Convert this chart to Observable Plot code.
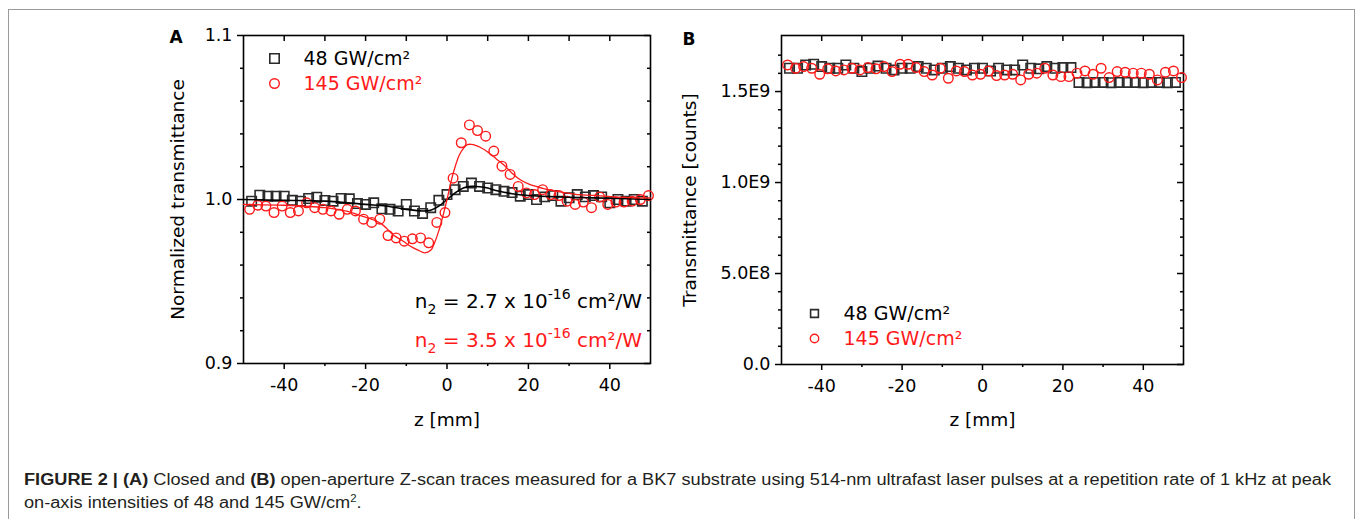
<!DOCTYPE html>
<html><head><meta charset="utf-8">
<script src="https://cdn.jsdelivr.net/npm/d3@7"></script>
<script src="https://cdn.jsdelivr.net/npm/@observablehq/plot@0.6"></script>
<style>
body{margin:0;background:#fff;}
#page{position:relative;width:1357px;height:519px;overflow:hidden;background:#fff;}
#box{position:absolute;left:8px;top:9px;width:1347px;height:560px;border:1px solid #9a9a9a;box-sizing:border-box;}
#pa{position:absolute;left:0;top:0;}
#pb{position:absolute;left:670px;top:0;}
#cap{position:absolute;left:24px;top:468px;font-family:"Liberation Sans Narrow","Liberation Sans",sans-serif;font-size:16px;line-height:23px;color:#231f20;white-space:nowrap;transform-origin:0 0;}
#cap sup{font-size:10px;line-height:0;}
#l1{display:inline-block;}
</style></head><body>
<div id="page"><div id="box"></div><div id="pa"></div><div id="pb"></div>
<div id="cap"><div id="l1"><b>FIGURE 2 | (A)</b> Closed and <b>(B)</b> open-aperture Z-scan traces measured for a BK7 substrate using 514-nm ultrafast laser pulses at a repetition rate of 1 kHz at peak</div><div id="l2">on-axis intensities of 48 and 145 GW/cm<sup>2</sup>.</div></div>
</div>
<script>
// ---------- data ----------
const series = ["48 GW/cm²", "145 GW/cm²"];
const n2Values = ["2.7", "3.5"];

const z48 = [-48,-46,-44,-42,-40,-38,-36,-34,-32,-30,-28,-26,-24,-22,-20,-18,-16,-14,-12,-10,-8,-6,-4,-2,0,2,4,6,8,10,12,14,16,18,20,22,24,26,28,30,32,34,36,38,40,42,44,46,48];
const z145 = [-48.5,-46.5,-44.5,-42.5,-40.5,-38.5,-36.5,-34.5,-32.5,-30.5,-28.5,-26.5,-24.5,-22.5,-20.5,-18.5,-16.5,-14.5,-12.5,-10.5,-8.5,-6.5,-4.5,-2.5,-0.5,1.5,3.5,5.5,7.5,9.5,11.5,13.5,15.5,17.5,19.5,21.5,23.5,25.5,27.5,29.5,31.5,33.5,35.5,37.5,39.5,41.5,43.5,45.5,47.5,49.5];

// Panel A: closed aperture (normalized)
const closed48 = [0.999,1.0026,1.002,1.002,1.002,0.9995,0.999,1.0006,1.0014,0.9994,
  0.999,1.0006,1.0004,0.9975,0.997,0.998,0.9943,0.994,0.993,0.997,
  0.993,0.9915,0.995,0.9995,1.003,1.006,1.008,1.010,1.008,1.007,
  1.006,1.005,1.0042,1.002,1.003,1.0,1.0016,1.0024,0.999,1.001,
  1.003,1.0016,1.0024,1.0016,0.998,1.0,0.999,1.0,0.999];
const closed145 = [0.994,0.9965,0.996,0.992,0.996,0.992,0.993,0.998,0.995,0.994,
  0.993,0.991,0.994,0.993,0.988,0.986,0.988,0.978,0.9766,0.9746,
  0.976,0.9766,0.9736,0.986,0.992,1.013,1.0346,1.0455,1.042,1.0386,
  1.0295,1.0203,1.0153,1.008,1.004,1.003,1.006,1.003,1.0024,0.999,
  0.997,0.9984,0.995,1.0016,0.997,0.9984,0.9984,0.999,1.0,1.0024];

const fitZ48 = [-50,-40,-30,-20,-15,-10,-6,-4,-2,0,2,4,6,8,10,12,16,20,28,36,50];
const fit48  = [1.0,0.9995,0.999,0.997,0.996,0.994,0.993,0.9935,0.996,1.0,1.004,1.007,1.008,1.0078,1.007,1.0055,1.0035,1.0024,1.0015,1.001,1.0];
const fitZ145 = [-50,-40,-30,-25,-21,-18,-16,-13,-11,-9,-7,-5.5,-4,-3,-2,-1,0,1,2,3,4,5,6,7,8,10,12,14,16,18,20,24,28,32,36,42,50];
const fit145  = [0.997,0.9965,0.995,0.993,0.990,0.9875,0.985,0.978,0.975,0.9715,0.969,0.9675,0.969,0.974,0.981,0.990,1.0,1.011,1.020,1.027,1.031,1.0335,1.0336,1.033,1.032,1.029,1.025,1.021,1.016,1.012,1.0095,1.0065,1.0045,1.003,1.0025,1.0015,1.001];

// Panel B: open aperture (counts)
const open48 = [1.628e9,1.628e9,1.646e9,1.65e9,1.637e9,1.628e9,1.628e9,1.646e9,1.628e9,1.61e9,
  1.628e9,1.64e9,1.628e9,1.619e9,1.628e9,1.628e9,1.637e9,1.628e9,1.619e9,1.628e9,
  1.637e9,1.628e9,1.619e9,1.628e9,1.628e9,1.613e9,1.628e9,1.619e9,1.619e9,1.646e9,
  1.628e9,1.625e9,1.637e9,1.628e9,1.632e9,1.632e9,
  1.550e9,1.549e9,1.550e9,1.550e9,1.549e9,1.550e9,1.550e9,1.550e9,1.549e9,1.550e9,1.550e9,1.549e9,1.550e9];
const open145 = [1.646e9,1.628e9,1.637e9,1.628e9,1.595e9,1.625e9,1.613e9,1.619e9,1.628e9,1.619e9,
  1.632e9,1.625e9,1.637e9,1.610e9,1.650e9,1.650e9,1.632e9,1.610e9,1.591e9,1.628e9,
  1.573e9,1.613e9,1.610e9,1.591e9,1.595e9,1.613e9,1.588e9,1.591e9,1.595e9,1.564e9,
  1.595e9,1.601e9,1.628e9,1.591e9,1.582e9,1.582e9,1.601e9,1.613e9,1.595e9,1.628e9,
  1.577e9,1.610e9,1.606e9,1.601e9,1.601e9,1.595e9,1.564e9,1.606e9,1.613e9,1.577e9];

// ticks
const xTicks = [-40,-20,0,20,40];
const xMinor = [-30,-10,10,30];
const yTicksA = [0.9,1.0,1.1];
const yMinorA = [0.92,0.94,0.96,0.98,1.02,1.04,1.06,1.08];
const yTicksB = [0,5e8,1e9,1.5e9];
const yMinorB = [1e8,2e8,3e8,4e8,6e8,7e8,8e8,9e8,1.1e9,1.2e9,1.3e9,1.4e9,1.6e9,1.7e9];

// ---------- styles ----------
const BLACK = "#2b2b2b", RED = "#ff1a1a";
const FONT = "'DejaVu Sans', sans-serif";
const sq = {symbol:"square", r:5.3, stroke:BLACK, strokeWidth:1.6, fill:"none"};
const ci = {symbol:"circle", r:4.8, stroke:RED, strokeWidth:1.4, fill:"none"};

function frameMarks(innerW, innerH, yMaj, yMin, yFmt) {
  return [
    Plot.frame({stroke:"#000", strokeWidth:1.6}),
    Plot.axisX({ticks:xTicks, tickSize:6, tickPadding:9, tickFormat:d=>String(d), label:null, fontSize:17.5, strokeWidth:1.5}),
    Plot.axisX({ticks:xMinor, tickSize:3, tickFormat:()=>"", label:null, strokeWidth:1.5}),
    Plot.axisY({ticks:yMaj, tickSize:6, tickPadding:5, tickFormat:yFmt, label:null, fontSize:17.5, strokeWidth:1.5}),
    Plot.axisY({ticks:yMin, tickSize:3, tickFormat:()=>"", label:null, strokeWidth:1.5}),
    Plot.tickX(xTicks, {x:d=>d, insetBottom:innerH-6, stroke:"#000", strokeWidth:1.5}),
    Plot.tickX(xMinor, {x:d=>d, insetBottom:innerH-6, stroke:"#000", strokeWidth:1.5}),
    Plot.tickY(yMaj, {y:d=>d, insetLeft:innerW-6, stroke:"#000", strokeWidth:1.5}),
    Plot.tickY(yMin, {y:d=>d, insetLeft:innerW-3, stroke:"#000", strokeWidth:1.5})
  ];
}
const lbl = {textAnchor:"start", lineAnchor:"middle", fontSize:19};

// ---------- Panel A ----------
const A = {w:670, h:440, l:243, r:20, t:35, b:77};
const innerWA = A.w - A.l - A.r, innerHA = A.h - A.t - A.b;
const plotA = Plot.plot({
  width:A.w, height:A.h, marginLeft:A.l, marginRight:A.r, marginTop:A.t, marginBottom:A.b,
  x:{domain:[-50,50]}, y:{domain:[0.9,1.1]},
  style:{fontFamily:FONT, color:"#000", background:"transparent", overflow:"visible"},
  marks:[
    ...frameMarks(innerWA, innerHA, yTicksA, yMinorA, d3.format(".1f")),
    Plot.dot(z48, {x:d=>d, y:(d,i)=>closed48[i], ...sq}),
    Plot.dot(z145, {x:d=>d, y:(d,i)=>closed145[i], ...ci}),
    Plot.line(fitZ48, {x:d=>d, y:(d,i)=>fit48[i], stroke:"#000", strokeWidth:1.6, curve:"catmull-rom"}),
    Plot.line(fitZ145, {x:d=>d, y:(d,i)=>fit145[i], stroke:RED, strokeWidth:1.3, curve:"catmull-rom"}),
    Plot.dot([series[0]], {frameAnchor:"top-left", dx:31, dy:23, ...sq}),
    Plot.dot([series[1]], {frameAnchor:"top-left", dx:31, dy:48, ...ci}),
    Plot.text([series[0]], {frameAnchor:"top-left", dx:60, dy:23, fill:"#000", ...lbl}),
    Plot.text([series[1]], {frameAnchor:"top-left", dx:60, dy:48, fill:RED, ...lbl}),
    Plot.text(["Normalized transmittance"], {frameAnchor:"left", dx:-65, rotate:-90, textAnchor:"middle", lineAnchor:"middle", fontSize:18.5, fill:"#000"}),
    Plot.text(["z [mm]"], {frameAnchor:"bottom", dy:57, textAnchor:"middle", lineAnchor:"middle", fontSize:18.5, fill:"#000"})
  ]
});
document.getElementById("pa").appendChild(plotA);

function n2Label(svg, x, y, color, val) {
  const t = d3.select(svg).append("text").attr("x", x).attr("y", y)
    .attr("text-anchor","end").attr("fill", color)
    .style("font-family", FONT).style("font-size","20px");
  t.append("tspan").text("n");
  t.append("tspan").attr("dy", 6).style("font-size","14px").text("2");
  t.append("tspan").attr("dy", -6).text(" = " + val + " x 10");
  t.append("tspan").attr("dy", -9).style("font-size","14px").text("-16");
  t.append("tspan").attr("dy", 9).text(" cm²/W");
}
n2Label(plotA, 642, 308, "#000", n2Values[0]);
n2Label(plotA, 642, 347, RED, n2Values[1]);
d3.select(plotA).append("text").attr("x",176).attr("y",43).attr("text-anchor","middle")
  .style("font-family",FONT).style("font-weight","bold").style("font-size","17px").text("A");

// ---------- Panel B ----------
const B = {w:530, h:440, l:111, r:17, t:35, b:76};
const innerWB = B.w - B.l - B.r, innerHB = B.h - B.t - B.b;
const fmtB = d => d === 0 ? "0.0" : d.toExponential(1).toUpperCase().replace("+","");
const plotB = Plot.plot({
  width:B.w, height:B.h, marginLeft:B.l, marginRight:B.r, marginTop:B.t, marginBottom:B.b,
  x:{domain:[-50,50]}, y:{domain:[0,1.808e9]},
  style:{fontFamily:FONT, color:"#000", background:"transparent", overflow:"visible"},
  marks:[
    ...frameMarks(innerWB, innerHB, yTicksB, yMinorB, fmtB),
    Plot.dot(z48, {x:d=>d, y:(d,i)=>open48[i], ...sq}),
    Plot.dot(z145, {x:d=>d, y:(d,i)=>open145[i], ...ci}),
    Plot.dot([series[0]], {frameAnchor:"top-left", dx:33, dy:278, ...sq, r:4.4}),
    Plot.dot([series[1]], {frameAnchor:"top-left", dx:33, dy:303, ...ci, r:4.2}),
    Plot.text([series[0]], {frameAnchor:"top-left", dx:62, dy:278, fill:"#000", ...lbl}),
    Plot.text([series[1]], {frameAnchor:"top-left", dx:62, dy:303, fill:RED, ...lbl}),
    Plot.text(["Transmittance [counts]"], {frameAnchor:"left", dx:-91, rotate:-90, textAnchor:"middle", lineAnchor:"middle", fontSize:18.5, fill:"#000"}),
    Plot.text(["z [mm]"], {frameAnchor:"bottom", dy:56, textAnchor:"middle", lineAnchor:"middle", fontSize:18.5, fill:"#000"})
  ]
});
document.getElementById("pb").appendChild(plotB);
d3.select(plotB).append("text").attr("x",19).attr("y",45).attr("text-anchor","middle")
  .style("font-family",FONT).style("font-weight","bold").style("font-size","17px").text("B");

// ---------- caption fit ----------
const l1 = document.getElementById("l1");
const s = 1307 / l1.getBoundingClientRect().width;
document.getElementById("cap").style.transform = `scaleX(${s})`;
</script>
</body></html>
